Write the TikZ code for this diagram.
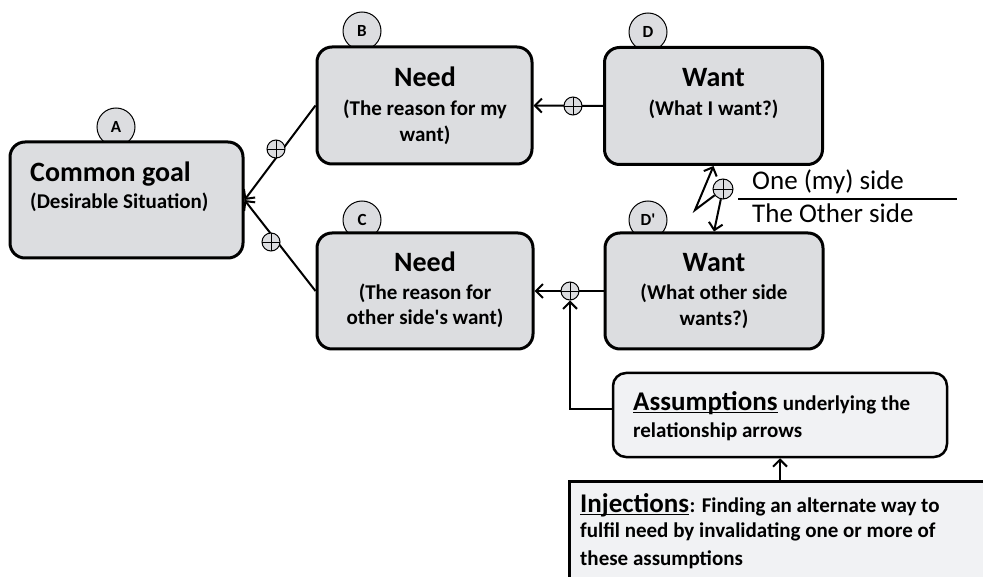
\documentclass[tikz,border=0pt]{standalone}
\usepackage{fontspec}
\setmainfont{Carlito}
\usetikzlibrary{arrows.meta}
\definecolor{boxgray}{HTML}{DCDDE0}
\definecolor{lightbox}{HTML}{F1F2F4}
\begin{document}
\begin{tikzpicture}[x=1pt,y=-1pt,
  bigbox/.style={draw, line width=3pt, rounded corners=15pt, fill=boxgray, inner sep=0pt},
  circtag/.style={shape=circle, draw, line width=1pt, fill=boxgray, minimum width=38pt, minimum height=38pt, inner sep=0pt,
    font=\fontsize{17}{17}\selectfont\bfseries},
  plus/.style={shape=circle, draw, line width=1pt, fill=boxgray, minimum size=18pt, inner sep=0pt,
    path picture={\draw[line width=0.8pt] (path picture bounding box.north) -- (path picture bounding box.south)
      (path picture bounding box.west) -- (path picture bounding box.east);}},
  arr/.style={line width=2pt, -{Straight Barb[length=7pt,width=14pt]}},
  ttl/.style={font=\fontsize{28}{28}\selectfont\bfseries, inner sep=0pt, anchor=base},
  sub/.style={font=\fontsize{21}{26}\selectfont\bfseries, inner sep=0pt, anchor=base},
  side/.style={font=\fontsize{27}{27}\selectfont, inner sep=0pt, anchor=base west},
  note/.style={font=\fontsize{21}{26}\selectfont\bfseries, inner sep=0pt, anchor=base west},
  big/.style={font=\fontsize{27}{27}\selectfont\bfseries, inner sep=0pt, anchor=base west}
]
\useasboundingbox (0,0) rectangle (983,577);
\clip (0,0) rectangle (983,577);

% tags
\node[circtag] (tA) at (116,127) {A};
\node[circtag] (tB) at (362,31) {B};
\node[circtag] (tD) at (648,32) {D};
\node[circtag] (tC) at (362,220) {C};
\node[circtag] (tDp) at (648,220) {D\textquotesingle};

% boxes
\node[bigbox, minimum width=233pt, minimum height=116pt] (A) at (126.5,200) {};
\node[bigbox, minimum width=215pt, minimum height=117pt] (B) at (424.5,105.5) {};
\node[bigbox, minimum width=218pt, minimum height=117pt] (D) at (713.5,106) {};
\node[bigbox, minimum width=216pt, minimum height=116pt] (C) at (425,291) {};
\node[bigbox, minimum width=218pt, minimum height=116pt] (Dp) at (714,291) {};

% box texts
\node[ttl, anchor=base west] (Atl) at (30,182) {Common goal};
\node[sub, anchor=base west] (Asb) at (30,209) {(Desirable Situation)};

\node[ttl] (Btl) at (425,87) {Need};
\node[sub] (Bs1) at (425,116) {(The reason for my};
\node[sub] (Bs2) at (425,142) {want)};

\node[ttl] (Dtl) at (713.5,87) {Want};
\node[sub] (Ds1) at (713.5,116) {(What I want?)};

\node[ttl] (Ctl) at (425,272) {Need};
\node[sub] (Cs1) at (425,300) {(The reason for};
\node[sub] (Cs2) at (425,325) {other side\textquotesingle s want)};

\node[ttl] (Dptl) at (714,272) {Want};
\node[sub] (Dps1) at (714,300) {(What other side};
\node[sub] (Dps2) at (714,326) {wants?)};

% assumptions and injections
\node[draw, line width=2.5pt, rounded corners=13pt, fill=lightbox, minimum width=334pt, minimum height=84pt, inner sep=0pt] (As) at (780,415) {};
\node[draw, line width=3pt, fill=lightbox, minimum width=440pt, minimum height=130pt, inner sep=0pt, anchor=north west] (In) at (568,480) {};

\node[big] (as1) at (633,410) {Assumptions};
\node[note] (as2) at ([xshift=5pt]as1.base east) {underlying the};
\node[note] (as3) at (633,437) {relationship arrows};
\draw[line width=1.6pt] ([yshift=-2.5pt]as1.base west) -- ([yshift=-2.5pt]as1.base east);

\node[big] (in1) at (580,512) {Injections};
\node[note] (in2) at (in1.base east) {: Finding an alternate way to};
\node[note] (in3) at (580,537) {fulfil need by invalidating one or more of};
\node[note] (in4) at (580,565) {these assumptions};
\draw[line width=1.6pt] ([yshift=-2.5pt]in1.base west) -- ([yshift=-2.5pt]in1.base east);

% side labels
\node[side] (one) at (752,190) {One (my) side};
\node[side] (oth) at (752,223) {The Other side};
\coordinate (s1) at (738,199);
\coordinate (s2) at (957,199);
\draw[line width=2pt] (s1) -- (s2);

% connectors
\draw[arr] (B.west) -- (A.east);
\draw[arr] (C.west) -- (A.east);
\draw[arr] (D.west) -- (B.east);
\draw[arr] (Dp.west) -- (C.east);

\node[plus] (p1) at (276,149) {};
\node[plus] (p2) at (271,242) {};
\node[plus] (p3) at (573,106) {};
\node[plus] (p4) at (570,291) {};

\draw[arr] ([yshift=6pt]As.west) -| (p4.south);
\draw[arr] (As.south |- In.north) -- (As.south);

\node[plus, minimum size=20pt] (p5) at (723,189) {};
\coordinate (z) at (695,210);
\draw[arr] (p5) -- (z) -- (D.south);
\draw[arr] (p5) -- (Dp.north);
\end{tikzpicture}
\end{document}
